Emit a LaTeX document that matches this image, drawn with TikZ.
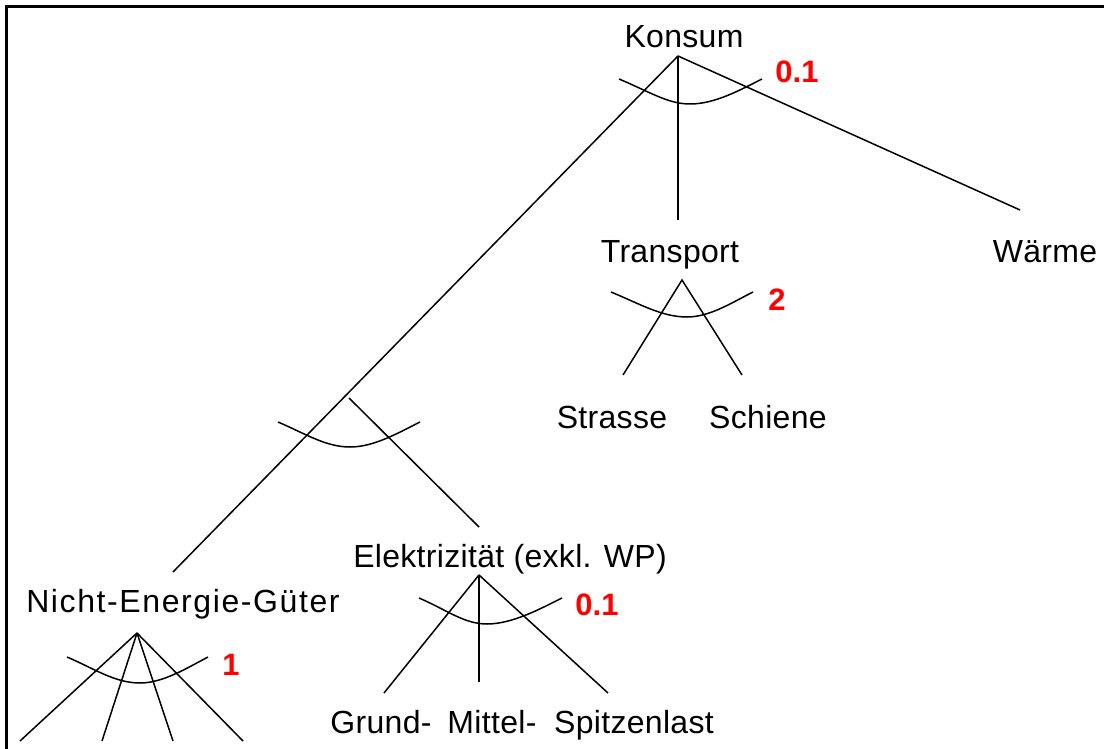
\documentclass[tikz,border=0pt]{standalone}
\usepackage{fontspec}
\setmainfont{Liberation Sans}
\newfontfamily\labelfont[LetterSpace=1]{Liberation Sans}
\newfontfamily\widefont[LetterSpace=5]{Liberation Sans}
\begin{document}
\begin{tikzpicture}[x=1pt,y=-1pt,
  lbl/.style={anchor=base,inner sep=0pt,font=\labelfont\fontsize{32}{38}\selectfont},
  widelbl/.style={anchor=base,inner sep=0pt,font=\widefont\fontsize{32}{38}\selectfont},
  wt/.style={anchor=base,inner sep=0pt,text=red,font=\fontsize{31}{37}\selectfont\bfseries},
  edge/.style={line width=1.5pt},
  arcline/.style={line width=1.5pt}]
\useasboundingbox (0,0) rectangle (1104,749);
\fill[white] (0,0) rectangle (1104,749);
% frame (left and top only visible)
\draw[line width=2.7pt] (6.7,749) -- (6.7,6.8) -- (1104,6.8);

% text nodes
\node[lbl] (konsum) at (684,48) {Konsum};
\node[lbl] (transport) at (670,262) {Transport};
\node[lbl] (waerme) at (1045,262) {Wärme};
\node[lbl] (strasse) at (612,428) {Strasse};
\node[lbl] (schiene) at (768,428) {Schiene};
\node[widelbl] (neg) at (183,612) {Nicht-Energie-Güter};
\node[lbl] (elek) at (510,567) {Elektrizität (exkl. WP)};
\node[lbl] (grund) at (381,733) {Grund-};
\node[lbl] (mittel) at (492,733) {Mittel-};
\node[lbl] (spitze) at (634,733) {Spitzenlast};

% weights
\node[wt] (w1) at (797,83) {0.1};
\node[wt] (w2) at (777,310) {2};
\node[wt] (w3) at (597,615) {0.1};
\node[wt] (w4) at (231,675) {1};

% connector points
\coordinate (konsumA) at (678,56);
\coordinate (transportT) at (678,220);
\coordinate (waermeT) at (1020,210);
\coordinate (negT) at (173,572);
\coordinate (midA) at (349,398);
\coordinate (elekT) at (479,527);
\coordinate (transportA) at (682,280);
\coordinate (strasseT) at (623,375);
\coordinate (schieneT) at (742,375);
\coordinate (elekA) at (479,575);
\coordinate (grundT) at (384,693);
\coordinate (mittelT) at (479,682);
\coordinate (spitzeT) at (608,693);
\coordinate (negA) at (137,633);
\coordinate (negB1) at (20,741);
\coordinate (negB2) at (102,741);
\coordinate (negB3) at (173,741);
\coordinate (negB4) at (243,741);

% connectors
\draw[edge] (konsumA) -- (negT);
\draw[edge] (konsumA) -- (transportT);
\draw[edge] (konsumA) -- (waermeT);
\draw[edge] (midA) -- (elekT);
\draw[edge] (strasseT) -- (transportA) -- (schieneT);
\draw[edge] (elekA) -- (grundT);
\draw[edge] (elekA) -- (mittelT);
\draw[edge] (elekA) -- (spitzeT);
\draw[edge] (negA) -- (negB1);
\draw[edge] (negA) -- (negB2);
\draw[edge] (negA) -- (negB3);
\draw[edge] (negA) -- (negB4);

% elasticity arcs
\draw[arcline] (619,79) .. controls (650,92) and (668,104) .. (690,104)
  .. controls (715,104) and (740,90) .. (762,79);
\draw[arcline] (611,292) .. controls (640,304) and (662,317) .. (687,317)
  .. controls (710,317) and (733,302) .. (753,292);
\draw[arcline] (278,422) .. controls (306,434) and (326,447) .. (350,447)
  .. controls (374,447) and (398,433) .. (420,422);
\draw[arcline] (419,598) .. controls (447,610) and (464,624) .. (487,624)
  .. controls (512,624) and (540,609) .. (562,598);
\draw[arcline] (67,657) .. controls (95,669) and (115,683) .. (140,683)
  .. controls (163,683) and (187,668) .. (208,657);
\end{tikzpicture}
\end{document}
